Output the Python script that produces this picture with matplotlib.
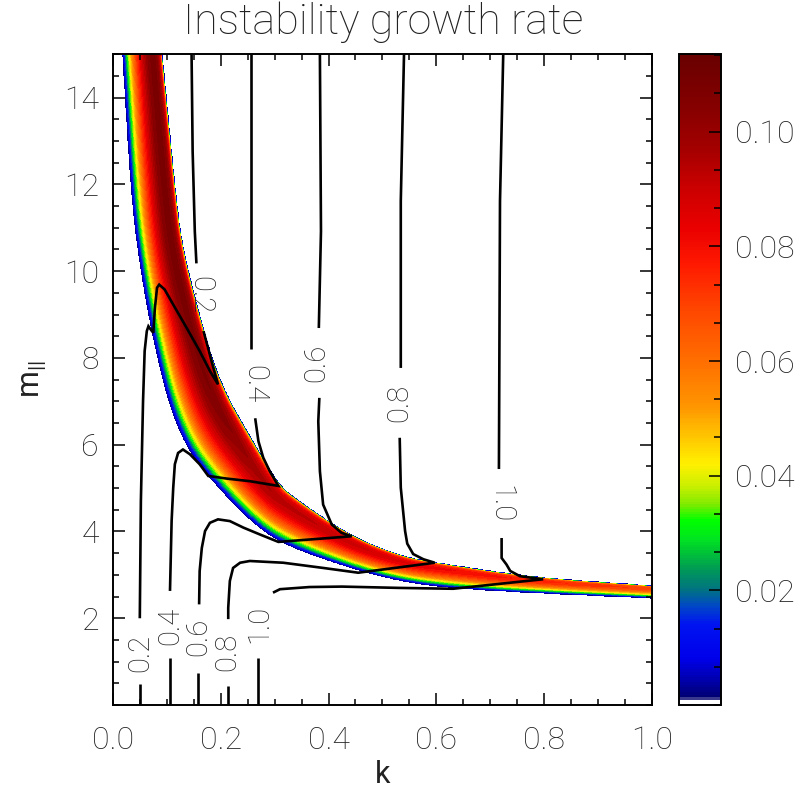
import numpy as np
import matplotlib
matplotlib.use('Agg')
import matplotlib.pyplot as plt
from matplotlib.colors import LinearSegmentedColormap, Normalize
from matplotlib.cm import ScalarMappable
from matplotlib.ticker import MultipleLocator

plt.rcParams['font.family'] = ['Roboto', 'DejaVu Sans']
plt.rcParams['font.weight'] = 'light'

# Edges of the unstable band (k, m_par)
k_lower = [0.0186, 0.0350, 0.0520, 0.0720, 0.1010, 0.1340, 0.178, 0.255, 0.316, 0.44, 0.532, 0.625, 0.779, 1.0]
m_lower = [14.95, 11.61, 10.00, 8.62, 7.05, 6.00, 5.25, 4.24, 3.70, 3.16, 2.86, 2.70, 2.59, 2.47]
k_upper = [0.091, 0.117, 0.13, 0.161, 0.1985, 0.26, 0.306, 0.334, 0.44, 0.532, 0.594, 0.779, 1.0]
m_upper = [14.95, 11.61, 10.46, 8.92, 7.39, 6.05, 5.10, 4.78, 3.89, 3.43, 3.28, 2.93, 2.74]

# Growth rate across the band (0 = lower edge, 1 = upper edge), relative to the ridge
s_across = [0, 0.05, 0.12, 0.22, 0.35, 0.50, 0.65, 0.78, 0.88, 0.94, 0.98, 1.0]
rel_growth = [0, 0.12, 0.28, 0.45, 0.65, 0.82, 0.95, 1.0, 0.93, 0.80, 0.50, 0]

# Ridge growth rate along the band
k_ridge = [0.0, 0.12, 0.17, 0.21, 0.26, 0.32, 0.45, 0.6, 0.8, 1.0]
growth_ridge = [0.109, 0.109, 0.107, 0.104, 0.098, 0.094, 0.090, 0.083, 0.076, 0.070]

# Colour table (value, rgb)
cb_values = [0.0, 0.0005, 0.0010, 0.0040, 0.0080, 0.0140, 0.0170, 0.0200, 0.0240, 0.0290,
             0.0320, 0.0350, 0.0380, 0.0420, 0.0465, 0.0520, 0.0600, 0.0690, 0.0770,
             0.0830, 0.0900, 0.0970, 0.1040, 0.1135]
cb_colors = [(255, 255, 255), (255, 255, 255), (0, 0, 110), (0, 0, 170), (0, 0, 235),
             (0, 20, 240), (0, 70, 200), (0, 115, 130), (0, 160, 80), (0, 230, 30),
             (0, 255, 0), (130, 235, 0), (200, 240, 0), (255, 240, 0), (255, 200, 0),
             (255, 150, 0), (255, 110, 0), (255, 70, 0), (255, 25, 0), (235, 0, 0),
             (205, 0, 0), (165, 0, 0), (135, 0, 0), (105, 0, 0)]
cb_ticks = [0.02, 0.04, 0.06, 0.08, 0.10]

# Contour lines of the second quantity, each as a list of segments of (k, m) points
line_02 = [[(0.050, 0.0), (0.050, 0.48)],
           [(0.050, 2.00), (0.052, 4.70), (0.056, 7.00), (0.059, 8.16), (0.063, 8.62),
            (0.066, 8.73), (0.070, 8.66), (0.075, 8.58), (0.078, 9.15), (0.082, 9.62),
            (0.086, 9.69), (0.096, 9.58), (0.112, 9.23), (0.137, 8.69), (0.161, 8.16),
            (0.180, 7.70), (0.195, 7.39), (0.183, 7.93), (0.173, 8.39), (0.168, 8.62)],
           [(0.155, 10.18), (0.152, 10.92), (0.148, 12.76), (0.146, 15.0)]]
line_04 = [[(0.106, 0.0), (0.106, 1.08)],
           [(0.106, 2.63), (0.109, 4.24), (0.112, 5.01), (0.115, 5.55), (0.121, 5.81),
            (0.130, 5.89), (0.143, 5.78), (0.161, 5.55), (0.177, 5.28), (0.211, 5.22),
            (0.254, 5.16), (0.307, 5.05), (0.291, 5.39), (0.279, 5.70), (0.270, 6.08),
            (0.264, 6.61)],
           [(0.257, 8.20), (0.257, 10.92), (0.257, 15.0)]]
line_06 = [[(0.158, 0.0), (0.158, 0.74)],
           [(0.160, 2.32), (0.161, 3.09), (0.165, 3.62), (0.171, 4.01), (0.180, 4.20),
            (0.195, 4.28), (0.217, 4.24), (0.242, 4.09), (0.273, 3.93), (0.307, 3.76),
            (0.443, 3.89), (0.424, 3.97), (0.406, 4.16), (0.390, 4.62), (0.384, 5.39),
            (0.381, 6.54), (0.383, 7.08)],
           [(0.382, 8.69), (0.386, 10.92), (0.384, 15.0)]]
line_08 = [[(0.213, 0.0), (0.213, 0.44)],
           [(0.214, 1.98), (0.214, 2.24), (0.217, 2.86), (0.223, 3.16), (0.236, 3.28),
            (0.254, 3.32), (0.316, 3.28), (0.390, 3.16), (0.455, 3.05), (0.597, 3.28),
            (0.576, 3.36), (0.557, 3.48), (0.546, 3.72), (0.542, 4.01), (0.534, 5.01),
            (0.532, 6.16)],
           [(0.534, 7.77), (0.534, 11.61), (0.540, 15.0)]]
line_10 = [[(0.270, 0.0), (0.270, 1.08)],
           [(0.297, 2.59), (0.310, 2.67), (0.365, 2.72), (0.425, 2.73), (0.530, 2.70),
            (0.631, 2.68), (0.798, 2.90), (0.755, 2.97), (0.737, 3.09), (0.730, 3.24),
            (0.721, 3.39), (0.721, 3.85)],
           [(0.716, 5.44), (0.718, 11.61), (0.724, 15.0)]]

# Contour labels
label_text = ['0.2', '0.4', '0.6', '0.8', '1.0', '0.2', '0.4', '0.6', '0.8', '1.0']
label_k = [0.050, 0.106, 0.159, 0.213, 0.271, 0.163, 0.262, 0.377, 0.532, 0.718]
label_m = [1.20, 1.82, 1.57, 1.22, 1.87, 9.45, 7.40, 7.88, 6.96, 4.63]
label_rot = [90, 90, 90, 90, 90, -90, -90, 90, 90, -90]

x_ticks = [0.0, 0.2, 0.4, 0.6, 0.8, 1.0]
y_ticks = [2, 4, 6, 8, 10, 12, 14]


###############################################################################
# Growth-rate field built from the band edges and profiles
kk = np.linspace(0, 1, 800)
mm = np.linspace(0, 15, 1000)
K, M = np.meshgrid(kk, mm)

# scale so that distances are measured as on the plot
sx, sy = 539.0, 43.4


def smooth_edge(lk, lm, n_iter=3):
    # corner cutting, end points kept
    p = np.column_stack([np.asarray(lk) * sx, np.asarray(lm) * sy])
    for _ in range(n_iter):
        q = 0.75 * p[:-1] + 0.25 * p[1:]
        r = 0.25 * p[:-1] + 0.75 * p[1:]
        mid = np.empty((2 * len(q), 2))
        mid[0::2], mid[1::2] = q, r
        p = np.vstack([p[:1], mid, p[-1:]])
    return p[:, 0] / sx, p[:, 1] / sy


def dist_to_line(kx, my, lk, lm):
    px, py = kx * sx, my * sy
    lx, ly = np.asarray(lk) * sx, np.asarray(lm) * sy
    d = np.full(px.shape, np.inf)
    for i in range(len(lx) - 1):
        vx, vy = lx[i + 1] - lx[i], ly[i + 1] - ly[i]
        t = ((px - lx[i]) * vx + (py - ly[i]) * vy) / (vx * vx + vy * vy)
        t = np.clip(t, 0, 1)
        d = np.minimum(d, np.hypot(px - lx[i] - t * vx, py - ly[i] - t * vy))
    return d


klo, mlo = smooth_edge(k_lower, m_lower)
khi, mhi = smooth_edge(k_upper, m_upper)

inside = (M > np.interp(K, klo, mlo, left=np.inf)) & \
         (M < np.interp(K, khi, mhi, left=np.inf))
d_lo = dist_to_line(K, M, klo, mlo)
d_hi = dist_to_line(K, M, khi, mhi)
s = d_lo / (d_lo + d_hi + 1e-12)
gamma = np.interp(K, k_ridge, growth_ridge) * np.interp(s, s_across, rel_growth)
gamma = np.where(inside, gamma, 0.0)

vmin, vmax = cb_values[0], cb_values[-1]
cmap = LinearSegmentedColormap.from_list(
    'band', [((v - vmin) / (vmax - vmin), tuple(c / 255 for c in col))
             for v, col in zip(cb_values, cb_colors)])
norm = Normalize(vmin=vmin, vmax=vmax)

###############################################################################
# Create plot
fig = plt.figure(figsize=(8.06, 7.98), dpi=100)
ax = fig.add_axes([0.140, 0.1165, 0.669, 0.8155])

levels = np.arange(0.001, 0.1136, 0.0035)
ax.contourf(K, M, gamma, levels=levels, cmap=cmap, norm=norm, extend='max')

for segs in [line_02, line_04, line_06, line_08, line_10]:
    for seg in segs:
        seg = np.array(seg)
        ax.plot(seg[:, 0], seg[:, 1], color='black', linewidth=1.9,
                solid_joinstyle='miter', solid_capstyle='butt')

for txt, lk, lm, rot in zip(label_text, label_k, label_m, label_rot):
    ax.text(lk, lm, txt, rotation=rot, ha='center', va='center',
            fontsize=21, color='#222222')

ax.set_xlim(0, 1)
ax.set_ylim(0, 15)
ax.set_xticks(x_ticks)
ax.set_xticklabels([f'{v:.1f}' for v in x_ticks])
ax.set_yticks(y_ticks)
ax.xaxis.set_minor_locator(MultipleLocator(0.05))
ax.yaxis.set_minor_locator(MultipleLocator(0.5))
ax.tick_params(which='both', direction='in', top=True, right=True, width=1.1,
               labelsize=23, colors='black', labelcolor='#222222')
ax.tick_params(which='major', length=8.5)
ax.tick_params(which='minor', length=4.5)
ax.tick_params(axis='x', pad=15)
ax.tick_params(axis='y', pad=10)
for sp in ax.spines.values():
    sp.set_linewidth(1.4)

ax.set_xlabel('k', fontsize=22, color='#222222', labelpad=4)
ax.set_ylabel(r'm$_{\mathregular{||}}$', fontsize=22, color='#222222', labelpad=12)
fig.text(0.475, 0.972, 'Instability growth rate', ha='center', va='center',
         fontsize=31, color='#222222')

# Colour bar
cax = fig.add_axes([0.8424, 0.1165, 0.052, 0.8155])
cb = fig.colorbar(ScalarMappable(norm=norm, cmap=cmap), cax=cax)
cb.set_ticks(cb_ticks)
cb.set_ticklabels([f'{v:.2f}' for v in cb_ticks])
cax.yaxis.set_minor_locator(MultipleLocator(0.02 / 3))
cax.tick_params(which='both', direction='in', right=True, left=False, width=1.1,
                labelsize=23, labelcolor='#222222', pad=10)
cax.tick_params(which='major', length=9)
cax.tick_params(which='minor', length=5)
cb.outline.set_linewidth(1.4)

plt.savefig('out.png', dpi=100)
